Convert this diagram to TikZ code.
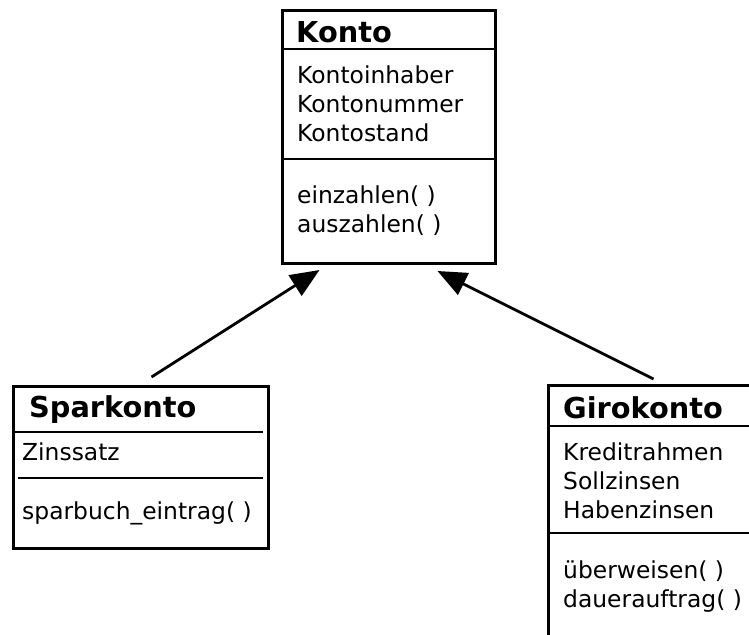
\documentclass[tikz,border=0pt]{standalone}
\usepackage{fontspec}
\setmainfont{DejaVu Sans}
\usetikzlibrary{arrows.meta,calc}
\begin{document}
\begin{tikzpicture}[x=1pt,y=-1pt,
  box/.style={draw, line width=3pt, anchor=north west, inner sep=0pt},
  sep/.style={line width=1.6pt},
  body/.style={anchor=base west, inner sep=0pt, font=\fontsize{23.4}{28}\selectfont},
  title/.style={anchor=base west, inner sep=0pt, font=\fontsize{28.8}{34}\selectfont\bfseries},
  inh/.style={-{Triangle[length=29pt,width=24pt]}, line width=2.8pt}]
\useasboundingbox (0,0) rectangle (749,634);
\clip (0,0) rectangle (749,634);

% Konto
\node[box, minimum width=213pt, minimum height=253pt] (konto) at (281,9) {};
\draw[sep] ($(konto.north west)+(0,40)$) -- ($(konto.north east)+(0,40)$);
\draw[sep] ($(konto.north west)+(0,150)$) -- ($(konto.north east)+(0,150)$);
\node[title] (kontoT) at (296,42) {Konto};
\node[body] (k1) at (297,83) {Kontoinhaber};
\node[body] (k2) at (297,112) {Kontonummer};
\node[body] (k3) at (297,141) {Kontostand};
\node[body] (k4) at (297,203) {einzahlen( )};
\node[body] (k5) at (297,232) {auszahlen( )};

% Sparkonto
\node[box, minimum width=255pt, minimum height=162pt] (spar) at (12,385) {};
\draw[sep] ($(spar.north west)+(1,47)$) -- ($(spar.north west)+(251,47)$);
\draw[sep] ($(spar.north west)+(6,93)$) -- ($(spar.north west)+(251,93)$);
\node[title] (sparT) at (29,417) {Sparkonto};
\node[body] (s1) at (22,460) {Zinssatz};
\node[body] (s2) at (22,519) {sparbuch\_eintrag( )};

% Girokonto
\node[box, minimum width=220pt, minimum height=280pt] (giro) at (547,384) {};
\draw[sep] ($(giro.north west)+(0,42)$) -- ($(giro.north east)+(0,42)$);
\draw[sep] ($(giro.north west)+(0,149)$) -- ($(giro.north east)+(0,149)$);
\node[title] (giroT) at (563,418) {Girokonto};
\node[body] (g1) at (563,460) {Kreditrahmen};
\node[body] (g2) at (563,489) {Sollzinsen};
\node[body] (g3) at (563,518) {Habenzinsen};
\node[body] (g4) at (563,578) {überweisen( )};
\node[body] (g5) at (563,607) {dauerauftrag( )};

% inheritance arrows
\draw[inh] ([xshift=10.5pt,yshift=8pt]spar.north) -- ([xshift=-69.5pt,yshift=-5pt]konto.south);
\draw[inh] ([xshift=-5pt,yshift=5pt]giro.north) -- ([xshift=48.5pt,yshift=-6pt]konto.south);
\end{tikzpicture}
\end{document}
